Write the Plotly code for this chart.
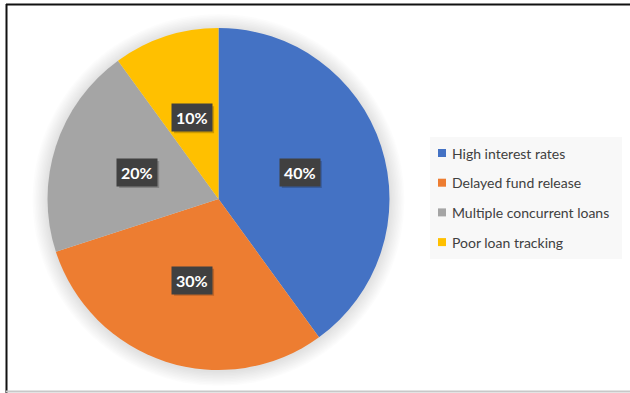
import math
import plotly.graph_objects as go

# Survey data: share of respondents citing each loan problem
causes = ["High interest rates", "Delayed fund release",
          "Multiple concurrent loans", "Poor loan tracking"]
shares = [40, 30, 20, 10]
slice_colors = ["#4472C4", "#ED7D31", "#A5A5A5", "#FFC000"]

W, H = 630, 393
CX, CY, R = 218.5, 199.0, 171.0   # pie centre / radius in pixels (y from top)


def px_x(x):
    return x / W


def px_y(y):
    return 1 - y / H


fig = go.Figure()
fig.add_trace(go.Pie(
    labels=causes,
    values=shares,
    sort=False,
    direction="clockwise",
    rotation=0,
    marker=dict(colors=slice_colors, line=dict(width=0)),
    textinfo="none",
    hoverinfo="label+percent",
    showlegend=False,
    domain=dict(x=[px_x(CX - R), px_x(CX + R)],
                y=[px_y(CY + R), px_y(CY - R)]),
))

shapes = []
# soft shadow ring around the pie
for k in range(10, 0, -1):
    rr = R + k * 1.5
    shapes.append(dict(type="circle", xref="paper", yref="paper",
                       x0=px_x(CX - rr), x1=px_x(CX + rr),
                       y0=px_y(CY + rr + 1), y1=px_y(CY - rr + 1),
                       fillcolor="rgba(0,0,0,0.012)", line=dict(width=0),
                       layer="below"))

# frame lines
shapes.append(dict(type="line", xref="paper", yref="paper",
                   x0=px_x(6), x1=1, y0=px_y(4.5), y1=px_y(4.5),
                   line=dict(color="#111111", width=2)))
shapes.append(dict(type="line", xref="paper", yref="paper",
                   x0=px_x(6.5), x1=px_x(6.5), y0=px_y(4), y1=0,
                   line=dict(color="#111111", width=2)))
shapes.append(dict(type="line", xref="paper", yref="paper",
                   x0=px_x(6), x1=1, y0=px_y(391.5), y1=px_y(391.5),
                   line=dict(color="#C8C8C8", width=2)))

# legend panel
shapes.append(dict(type="rect", xref="paper", yref="paper",
                   x0=px_x(430), x1=px_x(622), y0=px_y(259), y1=px_y(137),
                   fillcolor="#F8F8F8", line=dict(width=0), layer="below"))

annotations = []
# percentage labels in dark boxes at mid-angle of each slice
total = sum(shares)
cum = 0
for v in shares:
    mid = (cum + v / 2) / total * 2 * math.pi
    cum += v
    lx = CX + 0.5 * R * math.sin(mid)
    ly = CY - 0.5 * R * math.cos(mid)
    # drop shadow behind the label box
    shapes.append(dict(type="rect", xref="paper", yref="paper",
                       x0=px_x(lx - 18), x1=px_x(lx + 22),
                       y0=px_y(ly + 15.5), y1=px_y(ly - 11.5),
                       fillcolor="rgba(0,0,0,0.20)", line=dict(width=0)))
    annotations.append(dict(x=px_x(lx), y=px_y(ly), xref="paper", yref="paper",
                            xanchor="center", yanchor="middle",
                            text=f"<b>{v}%</b>", showarrow=False,
                            font=dict(family="Lato", size=16, color="#FFFFFF"),
                            bgcolor="#404040", borderpad=4))

# legend entries
for i, (name, col) in enumerate(zip(causes, slice_colors)):
    yc = 153 + i * 29.7
    shapes.append(dict(type="rect", xref="paper", yref="paper",
                       x0=px_x(438), x1=px_x(446), y0=px_y(yc + 4), y1=px_y(yc - 4),
                       fillcolor=col, line=dict(width=0)))
    annotations.append(dict(x=px_x(450), y=px_y(yc), xref="paper", yref="paper",
                            xanchor="left", yanchor="middle", text=name,
                            showarrow=False,
                            font=dict(family="Lato", size=14, color="#404040")))

fig.update_layout(
    width=W, height=H,
    margin=dict(l=0, r=0, t=0, b=0),
    paper_bgcolor="#FFFFFF",
    plot_bgcolor="#FFFFFF",
    shapes=shapes,
    annotations=annotations,
)

fig.write_html("out.html")
